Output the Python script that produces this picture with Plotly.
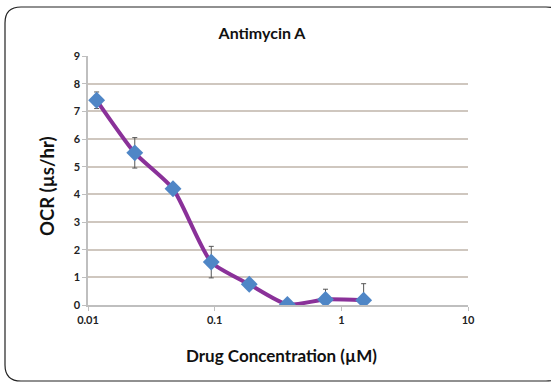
import plotly.graph_objects as go

conc = [0.0117, 0.0234, 0.0469, 0.094, 0.1875, 0.375, 0.75, 1.5]
ocr = [7.4, 5.5, 4.2, 1.55, 0.75, 0.02, 0.2, 0.17]
err = [0.3, 0.55, 0.08, 0.57, 0.08, 0.05, 0.37, 0.6]
x_ticks = [0.01, 0.1, 1, 10]
x_labels = ["0.01", "0.1", "1", "10"]
y_ticks = list(range(0, 10))

FONT = "Lato"
W, H = 551, 384
ML, MR, MT, MB = 88, 83, 56, 79

def px(x):
    return (x - ML) / (W - ML - MR)
def py(y):
    return (H - MB - y) / (H - MT - MB)

fig = go.Figure()
fig.add_trace(go.Scatter(
    x=conc, y=ocr, mode="lines+markers",
    line=dict(color="#8A3199", width=4, shape="spline", smoothing=0.6),
    marker=dict(symbol="diamond", size=13, color="#4F86C6"),
    error_y=dict(type="data", array=err, color="#555555", thickness=1, width=2.5),
    showlegend=False,
))

fig.update_layout(
    width=W, height=H,
    margin=dict(l=ML, r=MR, t=MT, b=MB),
    paper_bgcolor="white", plot_bgcolor="white",
    font=dict(family=FONT, color="#222222"),
    title=dict(text="<b>Antimycin A</b>", x=262/W, xanchor="center",
               y=1-33/H, yanchor="middle", font=dict(size=16, family=FONT, color="#111111")),
    xaxis=dict(type="log", range=[-2, 1], tickvals=x_ticks, ticktext=["<b>%s</b>" % t for t in x_labels],
               showgrid=False, zeroline=False, showline=True, linecolor="#BFBFBF", linewidth=1.5,
               ticks="outside", ticklen=4, tickcolor="#BFBFBF",
               tickfont=dict(size=11, family=FONT, color="#222222")),
    yaxis=dict(range=[0, 9], tickvals=y_ticks, ticktext=["<b>%d</b>" % v for v in y_ticks],
               showgrid=True, gridcolor="#CFC7BF", gridwidth=1.5, zeroline=False,
               showline=True, linecolor="#BFBFBF", linewidth=1.5,
               ticks="outside", ticklen=4, tickcolor="#BFBFBF",
               tickfont=dict(size=11, family=FONT, color="#222222")),
    annotations=[
        dict(text="<b>Drug Concentration (µM)</b>", xref="paper", yref="paper",
             x=px(281), y=py(356), xanchor="center", yanchor="middle", showarrow=False,
             font=dict(size=17, family=FONT, color="#111111")),
        dict(text="<b>OCR (µs/hr)</b>", xref="paper", yref="paper", textangle=-90,
             x=px(47), y=py(186), xanchor="center", yanchor="middle", showarrow=False,
             font=dict(size=18.5, family=FONT, color="#111111")),
    ],
)

# rounded frame around the chart
x0, y0, x1, y1, r = 5, 7, 562, 381, 16
path_p = (f"M {px(x0+r)},{py(y0)} L {px(x1-r)},{py(y0)} Q {px(x1)},{py(y0)} {px(x1)},{py(y0+r)} "
          f"L {px(x1)},{py(y1-r)} Q {px(x1)},{py(y1)} {px(x1-r)},{py(y1)} "
          f"L {px(x0+r)},{py(y1)} Q {px(x0)},{py(y1)} {px(x0)},{py(y1-r)} "
          f"L {px(x0)},{py(y0+r)} Q {px(x0)},{py(y0)} {px(x0+r)},{py(y0)} Z")
fig.add_shape(type="path", path=path_p, xref="paper", yref="paper",
              line=dict(color="#222222", width=1.2), fillcolor="rgba(0,0,0,0)", layer="above")

fig.write_html("out.html")
